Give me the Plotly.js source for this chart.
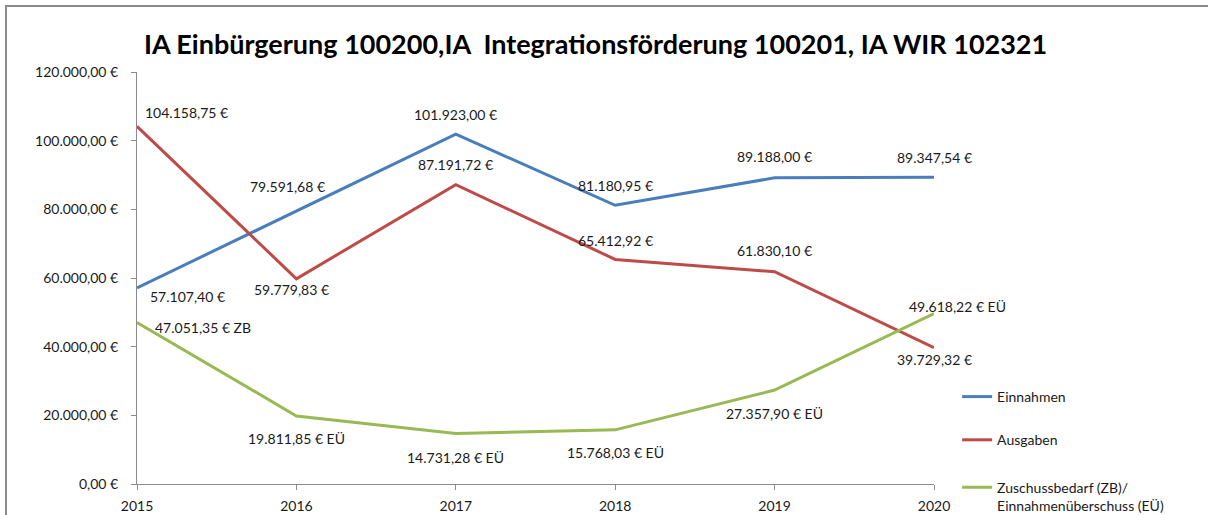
<!DOCTYPE html>
<html>
<head>
<meta charset="utf-8">
<script src="https://cdn.plot.ly/plotly-3.0.1.min.js"></script>
<style>
  html, body { margin: 0; padding: 0; background: #fff; }
  #wrap { position: relative; width: 1208px; height: 515px; overflow: hidden; }
  #chart { position: absolute; left: 0; top: 0; width: 1208px; height: 515px; }
  #frame { position: absolute; left: 5px; top: 5px; width: 1210px; height: 520px;
           border-left: 2px solid #8c8c8c; border-top: 2px solid #8c8c8c; pointer-events: none; }
</style>
</head>
<body>
<div id="wrap"><div id="chart"></div><div id="frame"></div></div>
<script>
// ---- data ----
const years = ['2015', '2016', '2017', '2018', '2019', '2020'];
const einnahmen = [57107.40, 79591.68, 101923.00, 81180.95, 89188.00, 89347.54];
const ausgaben = [104158.75, 59779.83, 87191.72, 65412.92, 61830.10, 39729.32];
const zuschuss = [47051.35, 19811.85, 14731.28, 15768.03, 27357.90, 49618.22];
const zuschussTag = ['ZB', 'EÜ', 'EÜ', 'EÜ', 'EÜ', 'EÜ'];
const seriesNames = ['Einnahmen', 'Ausgaben', 'Zuschussbedarf (ZB)/<br>Einnahmenüberschuss (EÜ)'];
const titleText = 'IA Einbürgerung 100200,IA  Integrationsförderung 100201, IA WIR 102321';

// ---- label placement (pixel shifts) ----
const offE = [[50, -9], [-9, 24], [0, 20], [0, 20], [0, 21], [0, 20]];
const offA = [[49, 14], [-5, -11], [0, 20], [0, 19], [0, 21], [0, -12]];
const offZ = [[66, -5], [0, -23], [0, -24], [0, -23], [0, -23], [23, 7]];

function fmtDE(v) {
  const parts = v.toFixed(2).split('.');
  const intPart = parts[0].replace(/\B(?=(\d{3})+(?!\d))/g, '.');
  return intPart + ',' + parts[1] + ' €';
}

const colors = ['#4a7ebb', '#be4b48', '#98b954'];
const legendRefs = ['legend', 'legend', 'legend2'];
const font = 'Lato, "Open Sans", sans-serif';

const traces = [einnahmen, ausgaben, zuschuss].map((ys, i) => ({
  type: 'scatter', mode: 'lines', x: years, y: ys, name: seriesNames[i],
  legendgroup: 'g' + i, legend: legendRefs[i],
  line: { color: colors[i], width: 3 },
  hoverinfo: 'skip'
}));

const annotations = [];
function addLabels(ys, offs, tags) {
  ys.forEach((v, k) => {
    annotations.push({
      x: k, y: v, xref: 'x', yref: 'y', showarrow: false,
      text: fmtDE(v) + (tags ? ' ' + tags[k] : ''),
      xshift: offs[k][0], yshift: offs[k][1],
      xanchor: 'center', yanchor: 'middle',
      font: { family: font, size: 14, color: '#1a1a1a' }
    });
  });
}
addLabels(einnahmen, offE);
addLabels(ausgaben, offA);
addLabels(zuschuss, offZ, zuschussTag);

const legendFont = { family: font, size: 14, color: '#1a1a1a' };

const layout = {
  width: 1208, height: 515,
  margin: { l: 137, r: 274, t: 72, b: 31, autoexpand: false },
  paper_bgcolor: 'rgba(0,0,0,0)', plot_bgcolor: 'rgba(0,0,0,0)',
  title: {
    text: '<b>' + titleText + '</b>',
    font: { family: font, size: 27, color: '#000' },
    x: 0.493, xanchor: 'center', y: 0.913, yanchor: 'middle'
  },
  xaxis: {
    type: 'category', range: [0, 5],
    showgrid: false, zeroline: false,
    showline: true, linecolor: '#8a8a94', linewidth: 1,
    ticks: 'outside', ticklen: 5, tickcolor: '#8a8a94',
    ticklabelstandoff: 4,
    tickfont: { family: font, size: 14, color: '#1a1a1a' }
  },
  yaxis: {
    range: [0, 120000], dtick: 20000, tick0: 0,
    tickformat: ',.2f', ticksuffix: ' €',
    showgrid: false, zeroline: false,
    showline: true, linecolor: '#8a8a94', linewidth: 1,
    ticks: 'outside', ticklen: 5, tickcolor: '#8a8a94',
    ticklabelstandoff: 10,
    tickfont: { family: font, size: 14, color: '#1a1a1a' }
  },
  separators: ',.',
  showlegend: true,
  legend: {
    x: 1.029, xanchor: 'left', y: 0.25, yanchor: 'top',
    traceorder: 'grouped', tracegroupgap: 22, valign: 'top',
    itemwidth: 30, font: legendFont, bgcolor: 'rgba(0,0,0,0)'
  },
  legend2: {
    x: 1.029, xanchor: 'left', y: 0.03, yanchor: 'top',
    valign: 'top', itemwidth: 30, font: legendFont, bgcolor: 'rgba(0,0,0,0)'
  },
  annotations: annotations
};

Plotly.newPlot('chart', traces, layout, { displayModeBar: false, staticPlot: true });
</script>
</body>
</html>
